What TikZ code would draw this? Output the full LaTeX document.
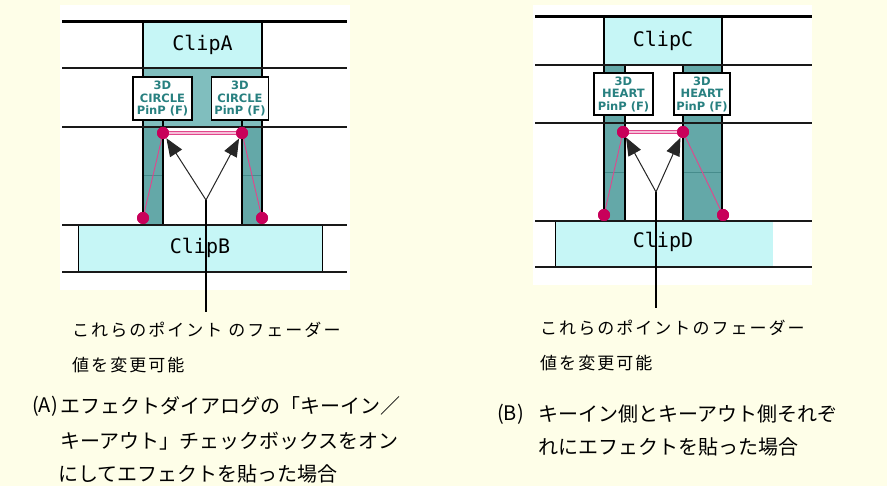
\documentclass[tikz,border=0pt]{standalone}
\usepackage{fontspec}
\newfontfamily\jpfont{Noto Sans CJK JP}
\newfontfamily\jpsmall[LetterSpace=12]{Noto Sans CJK JP}
\newfontfamily\clipfont{DejaVu Sans Mono}
\newfontfamily\fxfont{DejaVu Sans}
\usetikzlibrary{arrows.meta}
\definecolor{cream}{RGB}{254,254,232}
\definecolor{cyanc}{RGB}{198,246,246}
\definecolor{tealc}{RGB}{100,168,168}
\definecolor{teall}{RGB}{128,190,190}
\definecolor{teald}{RGB}{70,140,140}
\definecolor{tealtext}{RGB}{40,128,128}
\definecolor{dotc}{RGB}{200,0,90}
\definecolor{pinkc}{RGB}{225,70,140}
\definecolor{pinkl}{RGB}{245,190,215}
\tikzset{
  clipbox/.style={draw=black, line width=1.2pt, fill=cyanc, inner sep=0pt,
    font=\clipfont\fontsize{20}{20}\selectfont},
  fxbox/.style={draw=black, line width=1.2pt, fill=white, text=tealtext, align=center,
    inner sep=0pt, font=\fxfont\bfseries\fontsize{11.5}{12.5}\selectfont},
  dot/.style={circle, fill=dotc, inner sep=0pt, minimum size=12pt},
  hl/.style={line width=1.5pt, draw=black!90},
  hlthick/.style={line width=3pt, draw=black},
  vl/.style={line width=1.2pt, draw=black},
  pinkline/.style={draw=pinkc, line width=0.9pt},
  pinkdouble/.style={draw=pinkc, line width=0.8pt, double=pinkl, double distance=1.6pt},
  ptr/.style={-{Triangle[length=18pt,width=14pt]}, line width=1pt, draw=black!85},
  stem/.style={line width=1.2pt, draw=black},
  smalltxt/.style={anchor=west, inner sep=0pt, font=\jpsmall\fontsize{17}{17}\selectfont},
  bigtxt/.style={anchor=west, inner sep=0pt, font=\jpfont\fontsize{20}{20}\selectfont},
}
\begin{document}
\begin{tikzpicture}[x=1pt,y=-1pt]
\clip (0,0) rectangle (887,486);
\fill[cream] (0,0) rectangle (887,486);
% white panels
\fill[white] (60,5) rectangle (350,290);
\fill[white] (533,5) rectangle (812,285);

% ================= LEFT PANEL (A) =================
\fill[teall] (143,68) rectangle (262,127);
\fill[tealc] (143,127) rectangle (163,225);
\fill[tealc] (242,127) rectangle (262,225);
\draw[teald, line width=0.8pt] (143,175) -- (163,175);
\draw[teald, line width=0.8pt] (242,175) -- (262,175);
% ClipB
\node[clipbox, draw=none, minimum width=243pt, minimum height=47pt] (cB) at (200.5,248.5) {};
\draw[vl] (cB.north west) -- (cB.south west);
\draw[vl] (cB.north east) -- (cB.south east);
\node[font=\clipfont\fontsize{20}{20}\selectfont, inner sep=0pt] (tB) at (200,248) {ClipB};
% vertical column lines
\draw[vl] (143,22) -- (143,225);
\draw[vl] (262,22) -- (262,225);
\draw[vl] (163,120) -- (163,225);
\draw[vl] (242,120) -- (242,225);
% ClipA
\node[clipbox, minimum width=119pt, minimum height=46pt] (cA) at (202.5,45) {ClipA};
% horizontal lines
\draw[hlthick] (62,22) -- (347,22);
\draw[hl] (62,68) -- (347,68);
\draw[hl] (62,127) -- (347,127);
\draw[hl] (62,225) -- (347,225);
\draw[hl] (62,272) -- (347,272);
% effect boxes
\node[fxbox, minimum width=59pt, minimum height=43pt] (eA1) at (162.5,98.5) {3D\\CIRCLE\\PinP (F)};
\node[fxbox, minimum width=57pt, minimum height=43pt] (eA2) at (240,98.5) {3D\\CIRCLE\\PinP (F)};
% fader points
\node[dot] (pA1) at (163,133) {};
\node[dot] (pA2) at (242,133) {};
\node[dot] (pA3) at (143,218) {};
\node[dot] (pA4) at (262,218) {};
\draw[pinkdouble] (pA1) -- (pA2);
\draw[pinkline] (pA1) -- (pA3);
\draw[pinkline] (pA2) -- (pA4);
\node[dot] at (pA1) {};
\node[dot] at (pA2) {};
\node[dot] at (pA3) {};
\node[dot] at (pA4) {};
% pointer
\coordinate (jA) at (206,200);
\coordinate (bA) at (206,312);
\draw[stem] (jA) -- (bA);
\draw[ptr] (jA) -- (pA1);
\draw[ptr] (jA) -- (pA2);
% texts
\node[smalltxt] (sA1) at (72,330) {これらのポイント のフェーダー};
\node[smalltxt] (sA2) at (72,365) {値を変更可能};
\node[bigtxt, anchor=east] (lA0) at (58,406) {(A)};
\node[bigtxt] (lA1) at (60,406) {エフェクトダイアログの「キーイン／};
\node[bigtxt] (lA2) at (60,441) {キーアウト」チェックボックスをオン};
\node[bigtxt] (lA3) at (58,474) {にしてエフェクトを貼った場合};

% ================= RIGHT PANEL (B) =================
\fill[tealc] (604,65) rectangle (625,221);
\fill[tealc] (683,65) rectangle (722,221);
\draw[teald, line width=0.8pt] (604,172) -- (625,172);
\draw[teald, line width=0.8pt] (683,172) -- (722,172);
% ClipD
\node[clipbox, draw=none, minimum width=217pt, minimum height=46pt] (cD) at (664.5,244) {};
\draw[vl] (cD.north west) -- (cD.south west);
\node[font=\clipfont\fontsize{20}{20}\selectfont, inner sep=0pt] (tD) at (663,242) {ClipD};
% vertical lines
\draw[vl] (604,17) -- (604,221);
\draw[vl] (722,17) -- (722,221);
\draw[vl] (625,65) -- (625,221);
\draw[vl] (683,65) -- (683,221);
% ClipC
\node[clipbox, minimum width=118pt, minimum height=48pt] (cC) at (663,41) {ClipC};
% horizontal lines
\draw[hlthick] (535,17) -- (812,17);
\draw[hl] (535,65) -- (812,65);
\draw[hl] (535,123) -- (812,123);
\draw[hl] (535,221) -- (812,221);
\draw[hl] (535,267) -- (812,267);
% effect boxes
\node[fxbox, minimum width=59pt, minimum height=42pt] (eC1) at (623.5,94) {3D\\HEART\\PinP (F)};
\node[fxbox, minimum width=56pt, minimum height=42pt] (eC2) at (702,94) {3D\\HEART\\PinP (F)};
% fader points
\node[dot] (pC1) at (623,132) {};
\node[dot] (pC2) at (683,132) {};
\node[dot] (pC3) at (604,215) {};
\node[dot] (pC4) at (723,215) {};
\draw[pinkdouble] (pC1) -- (pC2);
\draw[pinkline] (pC1) -- (pC3);
\draw[pinkline] (pC2) -- (pC4);
\node[dot] at (pC1) {};
\node[dot] at (pC2) {};
\node[dot] at (pC3) {};
\node[dot] at (pC4) {};
% pointer
\coordinate (jC) at (656,192);
\coordinate (bC) at (656,308);
\draw[stem] (jC) -- (bC);
\draw[ptr] (jC) -- (pC1);
\draw[ptr] (jC) -- (pC2);
% texts
\node[smalltxt] (sC1) at (540,328) {これらのポイントのフェーダー};
\node[smalltxt] (sC2) at (540,363) {値を変更可能};
\node[bigtxt] (lB0) at (497,414) {(B)};
\node[bigtxt] (lB1) at (538,414) {キーイン側とキーアウト側それぞ};
\node[bigtxt] (lB2) at (538,447) {れにエフェクトを貼った場合};
\end{tikzpicture}
\end{document}
